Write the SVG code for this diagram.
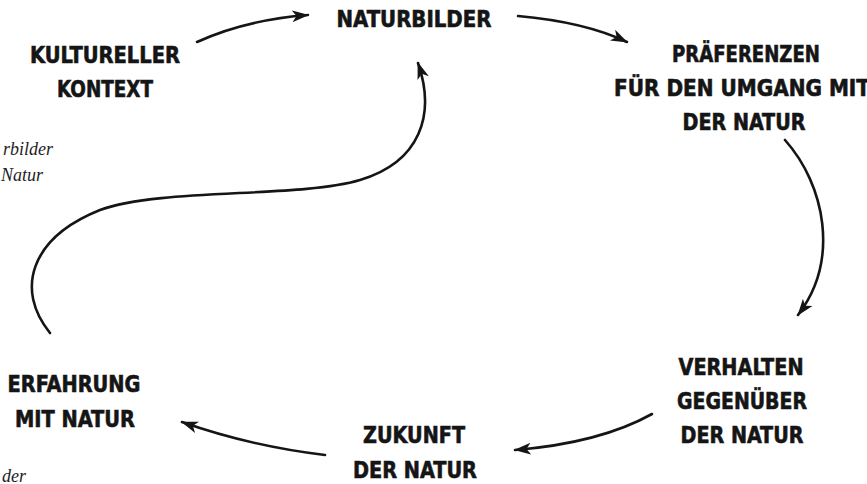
<svg xmlns="http://www.w3.org/2000/svg" width="867" height="484" viewBox="0 0 867 484">
<style>
.lbl{font-family:"Liberation Sans Narrow","DejaVu Sans Condensed","Liberation Sans",sans-serif;font-stretch:condensed;font-weight:bold;font-size:23px;fill:#151515;stroke:#151515;stroke-width:0.6;text-anchor:middle}
.note{font-family:"Liberation Serif",serif;font-style:italic;font-size:18px;fill:#1e1e1e}
.con{fill:none;stroke:#151515;stroke-width:2.6;stroke-linecap:round}
</style>
<defs>
<marker id="ah" markerUnits="userSpaceOnUse" viewBox="0 0 17 13" markerWidth="17" markerHeight="13" refX="16" refY="6.5" orient="auto">
<path d="M0,0.5 L17,6.5 L0,12.5 L4.5,6.5 Z" fill="#151515"/>
</marker>
</defs>
<rect width="867" height="484" fill="#fff"/>
<g id="notes">
<text class="note" x="53" y="155" text-anchor="end">rbilder</text>
<text class="note" x="43" y="181" text-anchor="end">Natur</text>
<text class="note" x="2" y="482">der</text>
</g>
<g id="naturbilder"><text class="lbl" x="414" y="27" textLength="155" lengthAdjust="spacingAndGlyphs">NATURBILDER</text></g>
<g id="kultureller-kontext">
<text class="lbl" x="105" y="63" textLength="150" lengthAdjust="spacingAndGlyphs">KULTURELLER</text>
<text class="lbl" x="105" y="97" textLength="96" lengthAdjust="spacingAndGlyphs">KONTEXT</text>
</g>
<g id="praeferenzen">
<text class="lbl" x="746" y="62" textLength="148" lengthAdjust="spacingAndGlyphs">PRÄFERENZEN</text>
<text class="lbl" x="742" y="96" textLength="256" lengthAdjust="spacingAndGlyphs">FÜR DEN UMGANG MIT</text>
<text class="lbl" x="744" y="130" textLength="123" lengthAdjust="spacingAndGlyphs">DER NATUR</text>
</g>
<g id="verhalten">
<text class="lbl" x="741" y="375" textLength="125" lengthAdjust="spacingAndGlyphs">VERHALTEN</text>
<text class="lbl" x="742" y="409" textLength="130" lengthAdjust="spacingAndGlyphs">GEGENÜBER</text>
<text class="lbl" x="742" y="443" textLength="123" lengthAdjust="spacingAndGlyphs">DER NATUR</text>
</g>
<g id="zukunft">
<text class="lbl" x="414" y="443" textLength="102" lengthAdjust="spacingAndGlyphs">ZUKUNFT</text>
<text class="lbl" x="415" y="478" textLength="124" lengthAdjust="spacingAndGlyphs">DER NATUR</text>
</g>
<g id="erfahrung">
<text class="lbl" x="74" y="392" textLength="133" lengthAdjust="spacingAndGlyphs">ERFAHRUNG</text>
<text class="lbl" x="75" y="427" textLength="120" lengthAdjust="spacingAndGlyphs">MIT NATUR</text>
</g>
<g id="connectors">
<path class="con" d="M197,42 Q245,20 308,15" marker-end="url(#ah)"/>
<path class="con" d="M518,16 Q585,22 627,42" marker-end="url(#ah)"/>
<path class="con" d="M785,140 C825,185 840,260 798,315" marker-end="url(#ah)"/>
<path class="con" d="M652,414 Q600,443 515,450" marker-end="url(#ah)"/>
<path class="con" d="M325,455 Q250,446 182,422" marker-end="url(#ah)"/>
<path class="con" d="M50,333 C15,290 30,238 100,210 C160,188 300,198 360,180 C420,162 436,115 418,63" marker-end="url(#ah)"/>
</g>
</svg>
